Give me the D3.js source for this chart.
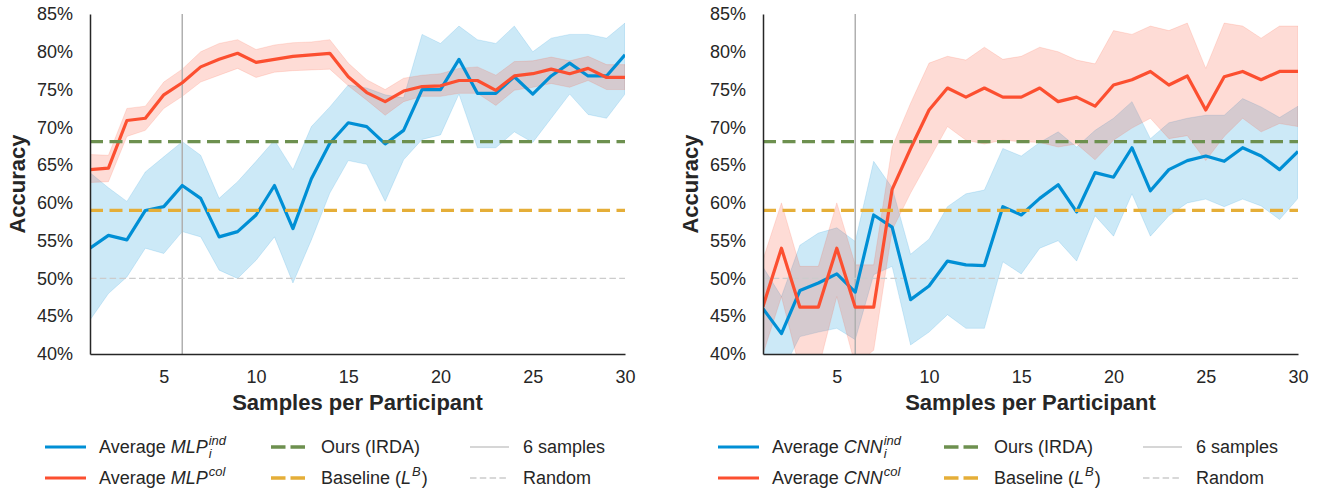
<!DOCTYPE html>
<html>
<head>
<meta charset="utf-8">
<script src="https://cdn.jsdelivr.net/npm/d3@7"></script>
<style>
  body { margin: 0; background: #fff; }
  text { font-family: "Liberation Sans", Arial, sans-serif; fill: #262626; white-space: pre; }
</style>
</head>
<body>
<div class="chartContainer"></div>
<script>
// samples per participant (x categories)
const samples = [1, 2, 3, 4, 5, 6, 7, 8, 9, 10, 11, 12, 13, 14, 15, 16, 17, 18, 19, 20, 21, 22, 23, 24, 25, 26, 27, 28, 29, 30];
const xTicks = [5, 10, 15, 20, 25, 30];
const yTicks = [40, 45, 50, 55, 60, 65, 70, 75, 80, 85];

// MLP panel
const mlpIndMean = [54.0, 55.7, 55.1, 59.0, 59.5, 62.3, 60.6, 55.5, 56.2, 58.4, 62.3, 56.6, 63.2, 67.9, 70.6, 70.1, 67.8, 69.6, 75.0, 75.0, 79.0, 74.5, 74.5, 76.7, 74.4, 76.8, 78.5, 76.8, 76.8, 79.6];
const mlpIndHigh = [64.0, 62.0, 60.2, 64.1, 66.1, 68.1, 66.3, 60.6, 62.8, 65.5, 68.3, 64.4, 70.1, 72.7, 75.6, 75.2, 74.3, 73.9, 82.3, 81.1, 83.4, 81.6, 81.1, 83.4, 80.0, 81.8, 82.3, 82.3, 81.8, 83.8];
const mlpIndLow = [44.5, 48.0, 50.2, 54.0, 53.3, 56.2, 55.5, 51.1, 50.0, 52.4, 55.5, 49.4, 55.1, 61.3, 65.6, 65.1, 60.2, 65.7, 68.4, 69.0, 74.4, 67.3, 67.3, 69.4, 68.0, 71.2, 74.4, 71.7, 71.2, 74.4];
const mlpColMean = [64.4, 64.6, 70.9, 71.2, 74.3, 75.9, 78.0, 79.0, 79.8, 78.6, 79.0, 79.4, 79.6, 79.8, 76.7, 74.6, 73.4, 74.8, 75.4, 75.5, 76.2, 76.2, 74.9, 76.8, 77.1, 77.7, 77.1, 77.8, 76.6, 76.6];
const mlpColHigh = [66.4, 66.3, 72.5, 72.8, 76.0, 77.7, 80.0, 81.1, 81.6, 80.3, 80.9, 81.2, 81.3, 81.6, 78.5, 76.3, 75.0, 76.5, 76.9, 77.1, 77.8, 78.0, 76.9, 78.7, 78.8, 79.3, 78.8, 79.4, 78.3, 78.3];
const mlpColLow = [62.7, 62.8, 68.8, 69.6, 72.5, 74.1, 76.0, 76.9, 77.8, 76.6, 77.3, 77.5, 77.6, 77.7, 75.5, 73.6, 71.6, 73.4, 74.1, 74.1, 74.5, 74.5, 72.9, 74.9, 75.3, 75.8, 75.3, 76.2, 75.0, 75.0];

// CNN panel
const cnnIndMean = [46.0, 42.7, 48.4, 49.4, 50.6, 48.2, 58.4, 56.8, 47.2, 49.0, 52.3, 51.8, 51.7, 59.5, 58.4, 60.6, 62.4, 58.8, 64.0, 63.4, 67.3, 61.6, 64.4, 65.6, 66.2, 65.5, 67.3, 66.2, 64.4, 66.8];
const cnnIndHigh = [51.5, 47.6, 54.4, 56.0, 56.7, 54.9, 65.5, 62.0, 53.2, 55.2, 59.5, 61.2, 61.7, 67.2, 66.2, 68.0, 69.4, 67.4, 69.6, 71.2, 73.4, 68.5, 70.6, 71.2, 71.6, 71.6, 73.8, 72.7, 71.3, 72.8];
const cnnIndLow = [38.0, 37.5, 42.3, 42.9, 43.4, 41.9, 50.5, 51.6, 41.2, 42.9, 45.2, 43.4, 43.4, 52.2, 50.6, 54.0, 55.0, 52.3, 58.3, 55.6, 61.2, 55.6, 58.3, 60.0, 60.5, 59.5, 60.5, 59.6, 57.8, 60.6];
const cnnColMean = [46.3, 54.0, 46.2, 46.2, 54.0, 46.2, 46.2, 61.8, 67.2, 72.3, 75.2, 74.0, 75.2, 74.0, 74.0, 75.2, 73.4, 74.0, 72.8, 75.6, 76.3, 77.4, 75.6, 76.8, 72.3, 76.7, 77.4, 76.3, 77.4, 77.4];
const cnnColHigh = [52.5, 60.0, 51.6, 51.6, 60.0, 51.8, 51.8, 67.4, 73.2, 78.5, 79.4, 78.9, 80.6, 79.0, 79.4, 80.6, 80.0, 78.9, 78.4, 82.8, 82.3, 83.4, 82.8, 83.8, 77.8, 83.8, 83.4, 81.8, 83.4, 83.4];
const cnnColLow = [40.0, 47.6, 38.0, 38.0, 47.6, 38.5, 40.5, 56.4, 61.3, 65.7, 70.1, 68.3, 67.8, 68.3, 68.1, 68.0, 67.4, 67.8, 65.7, 68.3, 69.9, 71.2, 68.5, 68.9, 65.6, 68.8, 71.2, 69.4, 70.5, 70.1];

// reference levels
const irdaAcc = 68.1;
const baselineAcc = 59.0;
const randomAcc = 50;
const sixSamples = 6;

const blue = "#008fd5",
  red = "#fc4f30",
  green = "#6d904f",
  yellow = "#e5ae38";

const w = 1322,
  h = 491;

const svg = d3.select(".chartContainer")
  .append("svg")
  .attr("width", w)
  .attr("height", h);

function drawPanel(id, left, right, ind, col, names) {
  const top = 14,
    bottom = 354;

  const x = d3.scaleLinear().domain([1, 30]).range([left, right]);
  const y = d3.scaleLinear().domain([40, 85]).range([bottom, top]);

  svg.append("clipPath")
    .attr("id", id)
    .append("rect")
    .attr("x", left)
    .attr("y", top)
    .attr("width", right - left)
    .attr("height", bottom - top);

  const plot = svg.append("g").attr("clip-path", `url(#${id})`);

  const band = d3.area()
    .x(function (d) { return x(d.s); })
    .y0(function (d) { return y(d.lo); })
    .y1(function (d) { return y(d.hi); });

  const line = d3.line()
    .x(function (d) { return x(d.s); })
    .y(function (d) { return y(d.m); });

  const series = [
    { color: blue, data: samples.map(function (s, i) { return { s: s, m: ind[0][i], lo: ind[1][i], hi: ind[2][i] }; }) },
    { color: red, data: samples.map(function (s, i) { return { s: s, m: col[0][i], lo: col[1][i], hi: col[2][i] }; }) }
  ];

  // confidence bands
  series.forEach(function (sr) {
    plot.append("path")
      .datum(sr.data)
      .attr("d", band)
      .attr("fill", sr.color)
      .attr("fill-opacity", 0.2)
      .attr("stroke", sr.color)
      .attr("stroke-opacity", 0.15)
      .attr("stroke-width", 1);
  });

  // 6 samples line
  plot.append("line")
    .attr("x1", x(sixSamples))
    .attr("x2", x(sixSamples))
    .attr("y1", top)
    .attr("y2", bottom)
    .attr("stroke", "#b0b0b0")
    .attr("stroke-width", 1.5);

  // random line
  plot.append("line")
    .attr("x1", left)
    .attr("x2", right)
    .attr("y1", y(randomAcc))
    .attr("y2", y(randomAcc))
    .attr("stroke", "#cccccc")
    .attr("stroke-width", 1.3)
    .attr("stroke-dasharray", "6.5,3.3");

  // mean lines
  series.forEach(function (sr) {
    plot.append("path")
      .datum(sr.data)
      .attr("d", line)
      .attr("fill", "none")
      .attr("stroke", sr.color)
      .attr("stroke-width", 3.2)
      .attr("stroke-linejoin", "round");
  });

  [[irdaAcc, green], [baselineAcc, yellow]].forEach(function (r) {
    plot.append("line")
      .attr("x1", left)
      .attr("x2", right)
      .attr("y1", y(r[0]))
      .attr("y2", y(r[0]))
      .attr("stroke", r[1])
      .attr("stroke-width", 3.3)
      .attr("stroke-dasharray", "13,6.5");
  });

  // axes
  const yAxis = d3.axisLeft(y)
    .tickValues(yTicks)
    .tickSize(0)
    .tickPadding(17)
    .tickFormat(function (d) { return d + "%"; });

  const xAxis = d3.axisBottom(x)
    .tickValues(xTicks)
    .tickSize(0)
    .tickPadding(16);

  const ya = svg.append("g")
    .attr("transform", `translate(${left},0)`)
    .call(yAxis);

  const xa = svg.append("g")
    .attr("transform", `translate(0,${bottom})`)
    .call(xAxis);

  [ya, xa].forEach(function (a) {
    a.select(".domain").attr("stroke", "#262626").attr("stroke-width", 1.5);
    a.selectAll("text")
      .style("font-family", "'Liberation Sans', Arial, sans-serif")
      .style("font-size", "18px")
      .attr("fill", "#262626");
  });

  svg.append("text")
    .attr("transform", `translate(${left - 65},${(top + bottom) / 2}) rotate(-90)`)
    .attr("text-anchor", "middle")
    .style("font-size", "22px")
    .style("font-weight", "bold")
    .text("Accuracy");

  svg.append("text")
    .attr("x", (left + right) / 2)
    .attr("y", 410)
    .attr("text-anchor", "middle")
    .style("font-size", "22px")
    .style("font-weight", "bold")
    .text("Samples per Participant");

  // legend
  const lx = left - 45;
  const rows = [447, 478];
  const lg = svg.append("g");

  function handle(x1, len, yy, color, width, dash) {
    lg.append("line")
      .attr("x1", x1)
      .attr("x2", x1 + len)
      .attr("y1", yy)
      .attr("y2", yy)
      .attr("stroke", color)
      .attr("stroke-width", width)
      .attr("stroke-dasharray", dash);
  }

  function label(x1, yy, parts) {
    let cx = x1;
    parts.forEach(function (p) {
      const t = lg.append("text")
        .attr("x", cx)
        .attr("y", yy + 6 + (p.dy || 0))
        .style("font-size", (p.size || 18) + "px")
        .style("font-style", p.italic ? "italic" : "normal")
        .text(p.t);
      const len = t.node().getComputedTextLength();
      if (!p.stack) cx += len + (p.gap || 0);
    });
  }

  handle(lx, 41, rows[0], blue, 3.2, null);
  handle(lx, 41, rows[1], red, 3.2, null);
  label(lx + 54, rows[0], [
    { t: "Average", gap: 5 },
    { t: names[0], italic: true, gap: 1 },
    { t: "i", italic: true, size: 13, dy: 5, stack: true },
    { t: "ind", italic: true, size: 13, dy: -8 }
  ]);
  label(lx + 54, rows[1], [
    { t: "Average", gap: 5 },
    { t: names[0], italic: true, gap: 1 },
    { t: "col", italic: true, size: 13, dy: -8 }
  ]);

  handle(lx + 226, 34, rows[0], green, 3.3, "14.5,5");
  handle(lx + 226, 34, rows[1], yellow, 3.3, "14.5,5");
  label(lx + 276, rows[0], [{ t: "Ours (IRDA)" }]);
  label(lx + 276, rows[1], [
    { t: "Baseline (" },
    { t: "L", italic: true, gap: 1 },
    { t: "B", italic: true, size: 13, dy: -8, gap: 1 },
    { t: ")" }
  ]);

  handle(lx + 425, 39, rows[0], "#c8c8c8", 1.5, null);
  handle(lx + 425, 39, rows[1], "#cccccc", 1.3, "6.5,3.3");
  label(lx + 478, rows[0], [{ t: "6 samples" }]);
  label(lx + 478, rows[1], [{ t: "Random" }]);
}

drawPanel("clipMlp", 90, 625,
  [mlpIndMean, mlpIndLow, mlpIndHigh],
  [mlpColMean, mlpColLow, mlpColHigh],
  ["MLP"]);

drawPanel("clipCnn", 763, 1298,
  [cnnIndMean, cnnIndLow, cnnIndHigh],
  [cnnColMean, cnnColLow, cnnColHigh],
  ["CNN"]);
</script>
</body>
</html>
